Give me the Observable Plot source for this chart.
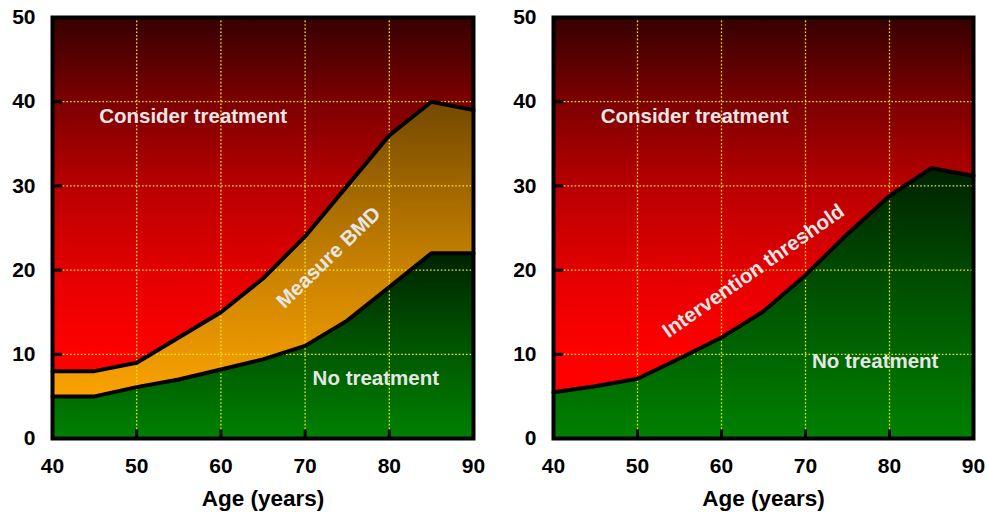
<!DOCTYPE html>
<html>
<head>
<meta charset="utf-8">
<script src="https://cdn.jsdelivr.net/npm/d3@7"></script>
<script src="https://cdn.jsdelivr.net/npm/@observablehq/plot@0.6"></script>
<style>
  html, body { margin: 0; padding: 0; background: #ffffff; }
  #wrap { display: flex; flex-direction: row; width: 987px; height: 515px; }
</style>
</head>
<body>
<div id="wrap"></div>
<script>
// ---- data ----
const ages = [40, 45, 50, 55, 60, 65, 70, 75, 80, 85, 90];
const bmdLowerThreshold = [5, 5, 6.1, 7, 8.2, 9.4, 11, 14, 18, 22, 22];
const bmdUpperThreshold = [8, 8, 9, 12, 15, 19, 24, 30, 36, 40, 39];
const interventionThreshold = [5.5, 6.2, 7.1, 9.5, 12, 15.1, 19.4, 24.3, 28.8, 32.1, 31.2];
const xTicks = [40, 50, 60, 70, 80, 90];
const yTicks = [0, 10, 20, 30, 40, 50];
const xGrid = [50, 60, 70, 80];
const yGrid = [10, 20, 30, 40];
const ageLabel = "Age (years)";
const leftLabels = ["Consider treatment", "Measure BMD", "No treatment"];
const rightLabels = ["Consider treatment", "Intervention threshold", "No treatment"];

const leftData = ages.map((a, i) => ({age: a, lower: bmdLowerThreshold[i], upper: bmdUpperThreshold[i]}));
const rightData = ages.map((a, i) => ({age: a, thr: interventionThreshold[i]}));

const FONT = "'Liberation Sans', Arial, Helvetica, sans-serif";
const TXT = "#e6e6e6";

function gradients(svg, suffix) {
  const defs = document.createElementNS("http://www.w3.org/2000/svg", "defs");
  defs.innerHTML = `
    <linearGradient id="red${suffix}" x1="0" y1="0" x2="0" y2="1">
      <stop offset="0" stop-color="#360000"/>
      <stop offset="0.2" stop-color="#7c0000"/>
      <stop offset="0.4" stop-color="#b80000"/>
      <stop offset="0.62" stop-color="#e60000"/>
      <stop offset="0.8" stop-color="#ff0000"/>
      <stop offset="1" stop-color="#ff0000"/>
    </linearGradient>
    <linearGradient id="orange${suffix}" x1="0" y1="0" x2="0" y2="1">
      <stop offset="0" stop-color="#744800"/>
      <stop offset="0.5" stop-color="#c07c00"/>
      <stop offset="1" stop-color="#fba200"/>
    </linearGradient>
    <linearGradient id="green${suffix}" x1="0" y1="0" x2="0" y2="1">
      <stop offset="0" stop-color="#002200"/>
      <stop offset="0.5" stop-color="#005500"/>
      <stop offset="1" stop-color="#008000"/>
    </linearGradient>`;
  svg.insertBefore(defs, svg.firstChild);
}

function commonMarks() {
  return [
    Plot.ruleX(xGrid, {stroke: "#f5f000", strokeWidth: 1.3, strokeDasharray: "1.6,2"}),
    Plot.ruleY(yGrid, {stroke: "#f5f000", strokeWidth: 1.3, strokeDasharray: "1.6,2"})
  ];
}

function frameMarks() {
  return [
    Plot.frame({stroke: "black", strokeWidth: 4}),
    Plot.ruleY(yGrid, {x1: 40, x2: 41.2, stroke: "black", strokeWidth: 3}),
    Plot.ruleX(xGrid, {y1: 0, y2: 1, stroke: "black", strokeWidth: 3}),
    Plot.axisX({ticks: xTicks, tickSize: 0, tickPadding: 20, label: null, fontSize: 21, fontWeight: "bold", fill: "black"}),
    Plot.axisY({ticks: yTicks, tickSize: 0, tickPadding: 17, label: null, fontSize: 21, fontWeight: "bold", fill: "black"}),
    Plot.text([ageLabel], {frameAnchor: "bottom", dy: 67, text: d => d, fontSize: 22.5, fontWeight: "bold", fill: "black"})
  ];
}

const base = {
  height: 515,
  marginTop: 17,
  marginBottom: 77,
  x: {domain: [40, 90]},
  y: {domain: [0, 50]},
  style: {fontFamily: FONT, fontSize: "21px", fontWeight: "bold", background: "transparent", overflow: "visible"}
};

// ---- left panel ----
const left = Plot.plot({
  ...base,
  width: 493,
  marginLeft: 52,
  marginRight: 20,
  marks: [
    Plot.frame({fill: "url(#redL)"}),
    Plot.areaY(leftData, {x: "age", y1: "lower", y2: "upper", fill: "url(#orangeL)"}),
    Plot.areaY(leftData, {x: "age", y1: 0, y2: "lower", fill: "url(#greenL)"}),
    ...commonMarks(),
    Plot.line(leftData, {x: "age", y: "upper", stroke: "black", strokeWidth: 4}),
    Plot.line(leftData, {x: "age", y: "lower", stroke: "black", strokeWidth: 4}),
    Plot.text([leftLabels[0]], {x: 56.7, y: 38.2, text: d => d, fill: TXT, fontSize: 20.5, fontWeight: "bold"}),
    Plot.text([leftLabels[1]], {x: 72.8, y: 21.5, text: d => d, fill: TXT, fontSize: 20.5, fontWeight: "bold", rotate: -44}),
    Plot.text([leftLabels[2]], {x: 78.4, y: 7.1, text: d => d, fill: TXT, fontSize: 20.5, fontWeight: "bold"}),
    ...frameMarks()
  ]
});
gradients(left, "L");

// ---- right panel ----
const right = Plot.plot({
  ...base,
  width: 494,
  marginLeft: 60,
  marginRight: 14,
  marks: [
    Plot.frame({fill: "url(#redR)"}),
    Plot.areaY(rightData, {x: "age", y1: 0, y2: "thr", fill: "url(#greenR)"}),
    ...commonMarks(),
    Plot.line(rightData, {x: "age", y: "thr", stroke: "black", strokeWidth: 4}),
    Plot.text([rightLabels[0]], {x: 56.8, y: 38.2, text: d => d, fill: TXT, fontSize: 20.5, fontWeight: "bold"}),
    Plot.text([rightLabels[1]], {x: 63.8, y: 19.9, text: d => d, fill: TXT, fontSize: 20.5, fontWeight: "bold", rotate: -35}),
    Plot.text([rightLabels[2]], {x: 78.3, y: 9.2, text: d => d, fill: TXT, fontSize: 20.5, fontWeight: "bold"}),
    ...frameMarks()
  ]
});
gradients(right, "R");

const wrap = document.getElementById("wrap");
wrap.appendChild(left);
wrap.appendChild(right);
</script>
</body>
</html>
